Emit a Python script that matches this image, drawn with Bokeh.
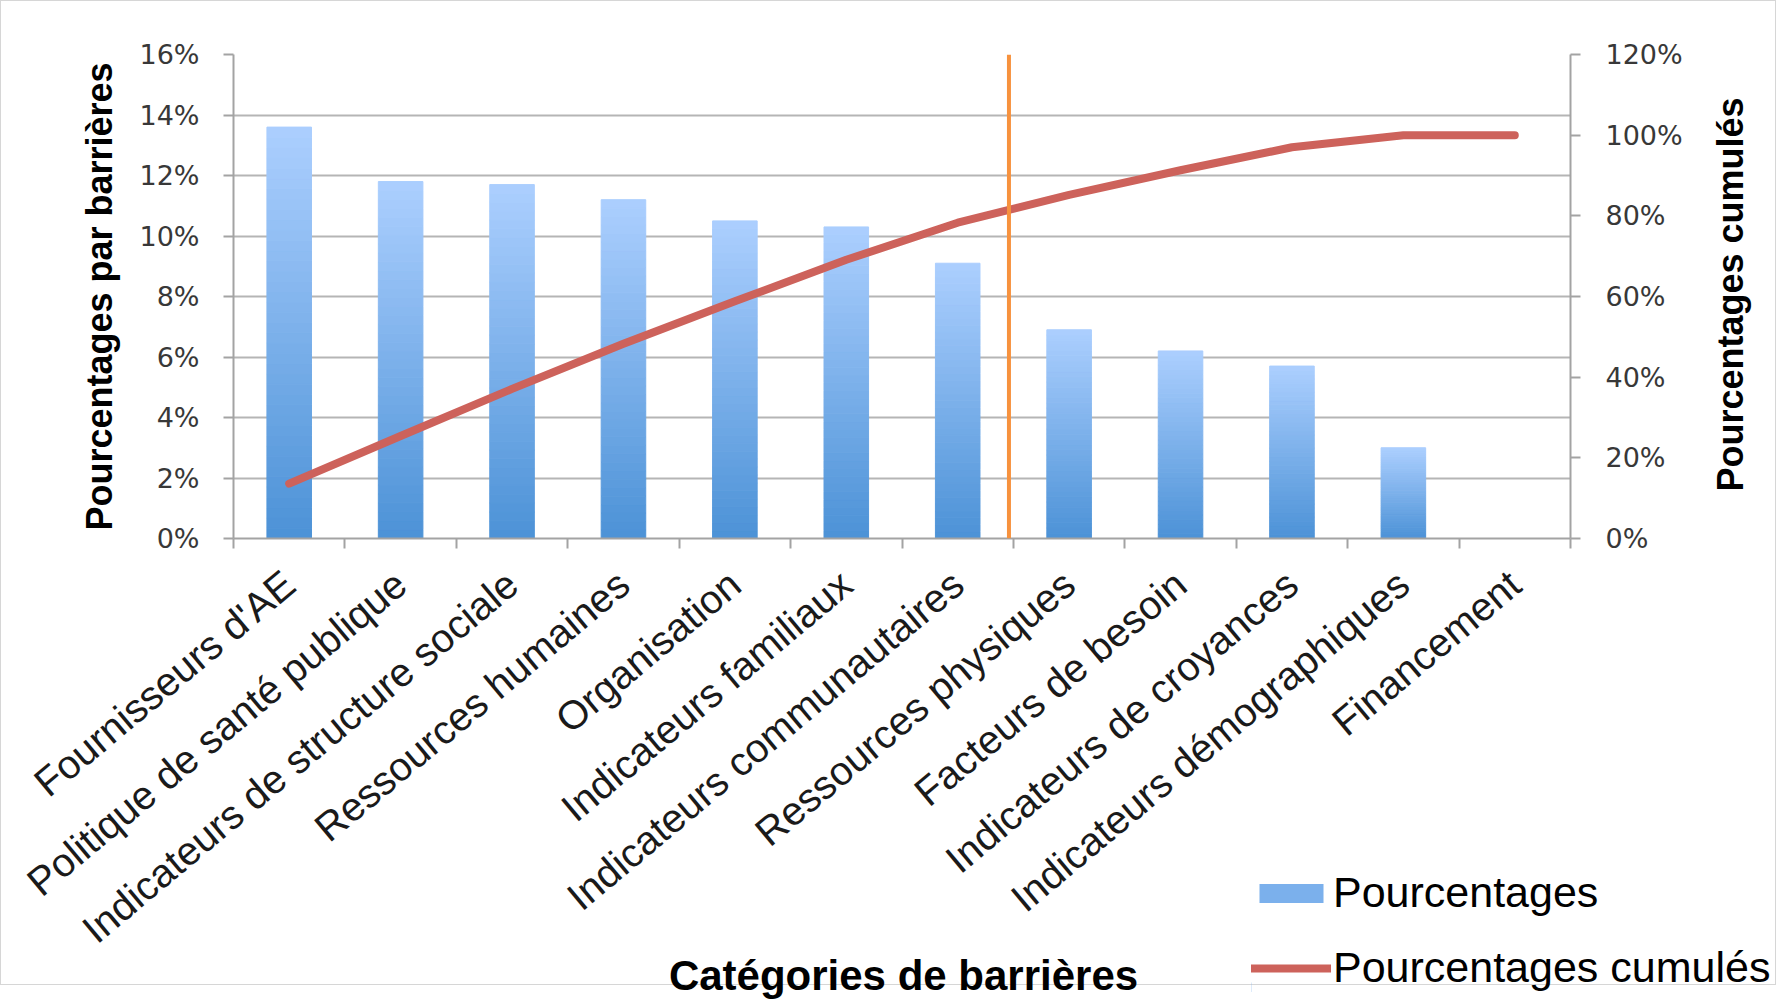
import math
from bokeh.plotting import figure
from bokeh.models import (Range1d, LinearAxis, FixedTicker, PrintfTickFormatter,
                          Span, Legend, LegendItem, ColumnDataSource, Label)
from bokeh.embed import file_html
from bokeh.resources import INLINE

# ---------------- data ----------------
categories = ["Fournisseurs d'AE", "Politique de santé publique",
              "Indicateurs de structure sociale", "Ressources humaines",
              "Organisation", "Indicateurs familiaux",
              "Indicateurs communautaires", "Ressources physiques",
              "Facteurs de besoin", "Indicateurs de croyances",
              "Indicateurs démographiques", "Financement"]
pourcentages = [13.6, 11.8, 11.7, 11.2, 10.5, 10.3, 9.1, 6.9, 6.2, 5.7, 3.0, 0.0]
pourcentages_cumules = [13.6, 25.4, 37.1, 48.3, 58.8, 69.1, 78.3, 85.2, 91.3, 97.0, 100.0, 100.0]
left_ticks = [0, 2, 4, 6, 8, 10, 12, 14, 16]
right_ticks = [0, 20, 40, 60, 80, 100, 120]
seuil_pareto = 6.96   # position of the orange cut-off line (category units)

# ---------------- styles ----------------
FONT = "Liberation Sans"
TICK_FONT = "DejaVu Sans"
GRID = "#B5B5B5"
AXIS = "#A3A3A3"
BAR_TOP = (172, 207, 254)
BAR_BOTTOM = (76, 146, 215)
LEG_BLUE = "#7BB0EC"
LINE_RED = "#CD625B"
ORANGE = "#F7923E"

n = len(categories)
centers = [i + 0.5 for i in range(n)]
bounds = [i for i in range(n + 1)]

p = figure(width=1776, height=985, x_range=Range1d(0, n), y_range=Range1d(0, 16),
           output_backend="svg", toolbar_location=None,
           min_border_left=232, min_border_right=207,
           min_border_top=53, min_border_bottom=448)
p.outline_line_color = None
p.background_fill_color = "white"
p.border_fill_color = "white"
p.styles = {"border": "1px solid #d6d6d6", "box-sizing": "border-box"}

# gradient bars: each bar split into horizontal slices coloured from dark (bottom) to light (top)
N = 40
def mix(t):
    r = [round(BAR_BOTTOM[j] + (BAR_TOP[j] - BAR_BOTTOM[j]) * t) for j in range(3)]
    return "#%02x%02x%02x" % tuple(r)

xs, bots, tops, cols = [], [], [], []
for i, v in enumerate(pourcentages):
    if v <= 0:
        continue
    for k in range(N):
        xs.append(centers[i])
        bots.append(v * k / N)
        tops.append(v * (k + 1) / N)
        cols.append(mix((k + 0.5) / N))
src = ColumnDataSource(dict(x=xs, b=bots, t=tops, c=cols))
bars = p.vbar(x="x", bottom="b", top="t", width=0.4, source=src,
              fill_color="c", line_color="c", line_width=1)

# grid
p.xgrid.grid_line_color = None
p.ygrid.ticker = FixedTicker(ticks=left_ticks)
p.ygrid.grid_line_color = GRID
p.ygrid.grid_line_width = 2

# cut-off line
p.add_layout(Span(location=seuil_pareto, dimension="height",
                  line_color=ORANGE, line_width=4))

# cumulative line on secondary range
p.extra_y_ranges = {"cum": Range1d(0, 120)}
cum = p.line(x=centers, y=pourcentages_cumules, y_range_name="cum",
             line_color=LINE_RED, line_width=8, line_cap="round", line_join="round")

# left axis
ya = p.yaxis[0]
ya.ticker = FixedTicker(ticks=left_ticks)
ya.formatter = PrintfTickFormatter(format="%d%%")
ya.axis_label = "Pourcentages par barrières"
ya.axis_label_text_font = FONT
ya.axis_label_text_font_style = "bold"
ya.axis_label_text_font_size = "36px"
ya.axis_label_text_color = "black"
ya.axis_label_standoff = 16
ya.major_label_text_font = TICK_FONT
ya.major_label_text_font_size = "27px"
ya.major_label_text_color = "#383838"
ya.major_label_standoff = 24
ya.axis_line_color = AXIS
ya.axis_line_width = 2
ya.major_tick_line_color = AXIS
ya.major_tick_line_width = 2
ya.major_tick_out = 10
ya.major_tick_in = 0
ya.minor_tick_line_color = None

# right axis
ra = LinearAxis(y_range_name="cum", ticker=FixedTicker(ticks=right_ticks),
                formatter=PrintfTickFormatter(format="%d%%"))
ra.major_label_text_font = TICK_FONT
ra.major_label_text_font_size = "27px"
ra.major_label_text_color = "#383838"
ra.major_label_standoff = 25
ra.axis_line_color = AXIS
ra.axis_line_width = 2
ra.major_tick_line_color = AXIS
ra.major_tick_line_width = 2
ra.major_tick_out = 10
ra.major_tick_in = 0
ra.minor_tick_line_color = None
p.add_layout(ra, "right")

# bottom axis: labels at category centres, tick marks at category boundaries
xa = p.xaxis[0]
xa.ticker = FixedTicker(ticks=centers, minor_ticks=bounds)
xa.major_label_overrides = {c: name for c, name in zip(centers, categories)}
xa.major_label_orientation = math.radians(40)
xa.major_label_text_font = FONT
xa.major_label_text_font_size = "40px"
xa.major_label_text_color = "#1a1a1a"
xa.major_label_standoff = 30
xa.major_tick_line_color = None
xa.major_tick_out = 10
xa.major_tick_in = 0
xa.minor_tick_line_color = AXIS
xa.minor_tick_line_width = 2
xa.minor_tick_out = 10
xa.minor_tick_in = 0
xa.axis_line_color = AXIS
xa.axis_line_width = 2


def overlay(width, height, left, top):
    """Small transparent figure laid over the chart (for texts outside the plot frame)."""
    f = figure(width=width, height=height, x_range=Range1d(0, width), y_range=Range1d(0, height),
               output_backend="svg", toolbar_location=None,
               x_axis_location=None, y_axis_location=None, min_border=0)
    f.grid.visible = False
    f.outline_line_color = None
    f.background_fill_alpha = 0
    f.border_fill_alpha = 0
    f.styles = {"position": "absolute", "left": "%dpx" % left, "top": "%dpx" % top,
                "z-index": "5"}
    return f

# x-axis title
xt = overlay(640, 50, 583, 950)
xt.add_layout(Label(x=320, y=25, text="Catégories de barrières", text_font=FONT,
                    text_font_style="bold", text_font_size="42px", text_color="black",
                    text_align="center", text_baseline="middle"))

# right axis title (reads bottom to top)
rt = overlay(60, 440, 1700, 74)
rt.add_layout(Label(x=30, y=220, text="Pourcentages cumulés", angle=math.pi / 2,
                    text_font=FONT, text_font_style="bold", text_font_size="36px",
                    text_color="black", text_align="center", text_baseline="middle"))

# legend
leg = overlay(535, 124, 1251, 868)
leg_bar = leg.vbar(x=[-50], top=[10], width=10, fill_color=LEG_BLUE, line_color=None)
leg_line = leg.line(x=[-50, -40], y=[10, 10], line_color=LINE_RED, line_width=8,
                    line_cap="round")
legend = Legend(items=[LegendItem(label="Pourcentages", renderers=[leg_bar]),
                       LegendItem(label="Pourcentages cumulés", renderers=[leg_line])],
                location="top_left", orientation="vertical",
                glyph_width=80, glyph_height=24, label_standoff=2, spacing=26,
                padding=0, margin=0, border_line_color=None, background_fill_alpha=0,
                label_text_font=FONT, label_text_font_size="43px",
                label_text_color="black")
leg.add_layout(legend)

open("out.html", "w").write(file_html([p, xt, rt, leg], INLINE))
